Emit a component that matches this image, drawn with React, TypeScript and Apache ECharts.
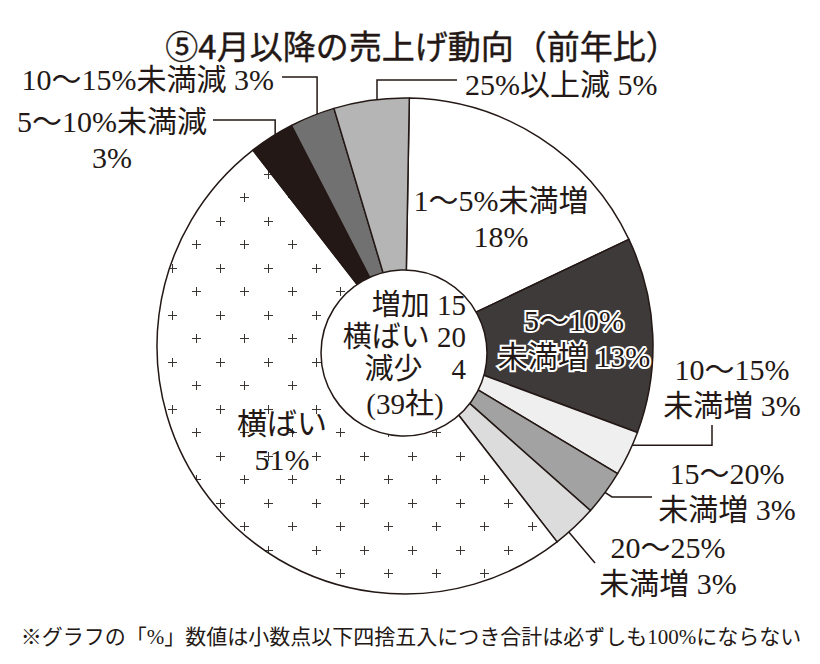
import React, { useEffect, useRef } from 'react';
import * as echarts from 'echarts';

// ---- data ----
const categories = [
  '1〜5%未満増',
  '5〜10%未満増',
  '10〜15%未満増',
  '15〜20%未満増',
  '20〜25%未満増',
  '横ばい',
  '5〜10%未満減',
  '10〜15%未満減',
  '25%以上減',
];
const percents = [18, 13, 3, 3, 3, 51, 3, 3, 5];
const summaryNames = ['増加', '横ばい', '減少'];
const summaryCounts = [15, 20, 4];
const totalCompanies = 39;
const titleText = '⑤4月以降の売上げ動向（前年比）';
const noteText = '※グラフの「%」数値は小数点以下四捨五入につき合計は必ずしも100%にならない';

// ---- styles / layout ----
const INK = '#231815';
const SERIF = '"Liberation Serif", "Noto Sans CJK JP", serif';
const GOTHIC = '"Noto Sans CJK JP", "Noto Sans", sans-serif';
const fills = ['#ffffff', '#3e3a39', '#efefef', '#a2a2a2', '#dcdcdc', null, '#231815', '#727171', '#b5b5b6'];
const CX = 405;
const CY = 346;
const R_OUT = 248;
const R_IN = 74;
const HOLE = { cx: 404, cy: 353, r: 83 };
const START_ANGLE = 89;
const LABEL_SIZE = 30;

// label text break style per slice: 'name' => name \n pct, 'suffix' => range \n 未満増 pct, 'inline' => name pct
const breakModes = ['name', 'suffix', 'suffix', 'suffix', 'suffix', 'name', 'name', 'inline', 'inline'];

type Layout = {
  inside: boolean;
  x: number;
  y: number;
  align: 'left' | 'center' | 'right';
  t?: number;
  r?: number;
  route?: 'vh' | 'hv' | 'pts';
  turn?: number;
  end?: number;
  pts?: number[][];
};
const labelLayouts: Layout[] = [
  { inside: true, x: 501, y: 218, align: 'center' },
  { inside: true, x: 574, y: 338, align: 'center' },
  { inside: false, x: 732, y: 387, align: 'center', t: 0.41, r: 237, route: 'hv', turn: 712, end: 425 },
  { inside: false, x: 727, y: 491, align: 'center', t: 0.53, r: 222, route: 'pts', pts: [[612, 497], [652, 497]] },
  { inside: false, x: 668, y: 565, align: 'center', t: 0.65, r: 219, route: 'pts', pts: [[573, 537], [595, 563]] },
  { inside: true, x: 282, y: 441, align: 'center' },
  { inside: false, x: 112, y: 139, align: 'center', t: 0.55, r: 245, route: 'vh', turn: 120, end: 213 },
  { inside: false, x: 274, y: 79, align: 'right', t: 0.44, r: 229, route: 'vh', turn: 77, end: 282 },
  { inside: false, x: 465, y: 84, align: 'left', t: 0.54, r: 226, route: 'vh', turn: 80, end: 457 },
];

const total = percents.reduce((a, b) => a + b, 0);

function labelText(i: number): string {
  const name = categories[i];
  const pct = `${percents[i]}%`;
  const mode = breakModes[i];
  if (mode === 'name') return `${name}\n${pct}`;
  if (mode === 'suffix') {
    const k = name.indexOf('未満');
    return `${name.slice(0, k)}\n${name.slice(k)} ${pct}`;
  }
  return `${name} ${pct}`;
}

function anchorPoint(i: number, t: number, r: number): number[] {
  let cum = 0;
  for (let k = 0; k < i; k++) cum += percents[k];
  const theta = ((90 - START_ANGLE) + ((cum + t * percents[i]) / total) * 360) * (Math.PI / 180);
  return [CX + r * Math.sin(theta), CY - r * Math.cos(theta)];
}

function routePoints(i: number, L: Layout): number[][] {
  const a = anchorPoint(i, L.t as number, L.r as number);
  if (L.route === 'vh') return [a, [a[0], L.turn as number], [L.end as number, L.turn as number]];
  if (L.route === 'hv') return [a, [L.turn as number, a[1]], [L.turn as number, L.end as number]];
  const p = L.pts as number[][];
  return [a, p[0], p[1]];
}

function makePlusPattern() {
  const W = 48;
  const H = 47;
  const c = document.createElement('canvas');
  c.width = W;
  c.height = H;
  const g = c.getContext('2d') as CanvasRenderingContext2D;
  g.fillStyle = '#ffffff';
  g.fillRect(0, 0, W, H);
  g.strokeStyle = '#3a3433';
  g.lineWidth = 1;
  const pts = [
    [28.5, 33.5],
    [4.5, 9.5],
  ];
  for (const [px, py] of pts) {
    for (const dx of [-W, 0, W]) {
      for (const dy of [-H, 0, H]) {
        const x = px + dx;
        const y = py + dy;
        g.beginPath();
        g.moveTo(x - 4.5, y);
        g.lineTo(x + 4.5, y);
        g.moveTo(x, y - 4.5);
        g.lineTo(x, y + 4.5);
        g.stroke();
      }
    }
  }
  return { image: c, repeat: 'repeat', imageWidth: W, imageHeight: H };
}

export default function App() {
  const ref = useRef<HTMLDivElement>(null);

  useEffect(() => {
    document.body.style.margin = '0';
    if (!ref.current) return;
    const chart = echarts.init(ref.current, null, { renderer: 'svg' });
    const pattern = makePlusPattern();

    const data = categories.map((name, i) => {
      const L = labelLayouts[i];
      const isDarkLabel = i === 1;
      return {
        name,
        value: percents[i],
        itemStyle: {
          color: fills[i] === null ? (pattern as any) : fills[i],
          borderColor: INK,
          borderWidth: 1.5,
        },
        label: {
          show: true,
          position: L.inside ? 'inside' : 'outside',
          formatter: labelText(i),
          fontFamily: SERIF,
          fontSize: LABEL_SIZE,
          lineHeight: 36,
          color: INK,
          ...(isDarkLabel ? { textBorderColor: '#ffffff', textBorderWidth: 4 } : { textBorderWidth: 0 }),
        },
        labelLine: {
          show: !L.inside,
          lineStyle: { color: INK, width: 1.5 },
        },
      };
    });

    const summaryLines = summaryNames.map(
      (n, i) => `${n}${String(summaryCounts[i]).length === 1 ? '\u3000' : ' '}${summaryCounts[i]}`
    );

    chart.setOption({
      animation: false,
      backgroundColor: '#ffffff',
      textStyle: { fontFamily: SERIF },
      series: [
        {
          type: 'pie',
          center: [CX, CY],
          radius: [R_IN, R_OUT],
          startAngle: START_ANGLE,
          clockwise: true,
          avoidLabelOverlap: false,
          silent: true,
          data,
          labelLayout: (p: any) => {
            const L = labelLayouts[p.dataIndex];
            const res: any = { x: L.x, y: L.y, align: L.align, verticalAlign: 'middle' };
            if (!L.inside) res.labelLinePoints = routePoints(p.dataIndex, L);
            return res;
          },
        },
      ],
      graphic: [
        {
          type: 'circle',
          z: 100,
          shape: { cx: HOLE.cx, cy: HOLE.cy, r: HOLE.r },
          style: { fill: '#ffffff', stroke: INK, lineWidth: 1.5 },
        },
        {
          type: 'text',
          z: 101,
          x: 466,
          y: 337,
          style: {
            text: summaryLines.join('\n'),
            fontFamily: SERIF,
            fontSize: 29,
            lineHeight: 32,
            fill: INK,
            align: 'right',
            verticalAlign: 'middle',
          },
        },
        {
          type: 'text',
          z: 101,
          x: 405,
          y: 404,
          style: {
            text: `(${totalCompanies}社)`,
            fontFamily: SERIF,
            fontSize: 29,
            fill: INK,
            align: 'center',
            verticalAlign: 'middle',
          },
        },
        {
          type: 'text',
          z: 101,
          x: 422,
          y: 45,
          style: {
            text: titleText,
            fontFamily: GOTHIC,
            fontWeight: 'normal',
            fontSize: 33,
            fill: INK,
            stroke: INK,
            lineWidth: 0.4,
            align: 'center',
            verticalAlign: 'middle',
          },
        },
        {
          type: 'text',
          z: 101,
          x: 411,
          y: 637,
          style: {
            text: noteText,
            fontFamily: SERIF,
            fontSize: 21,
            fill: INK,
            align: 'center',
            verticalAlign: 'middle',
          },
        },
      ],
    });

    return () => {
      chart.dispose();
    };
  }, []);

  return <div ref={ref} style={{ width: 820, height: 664 }} />;
}
